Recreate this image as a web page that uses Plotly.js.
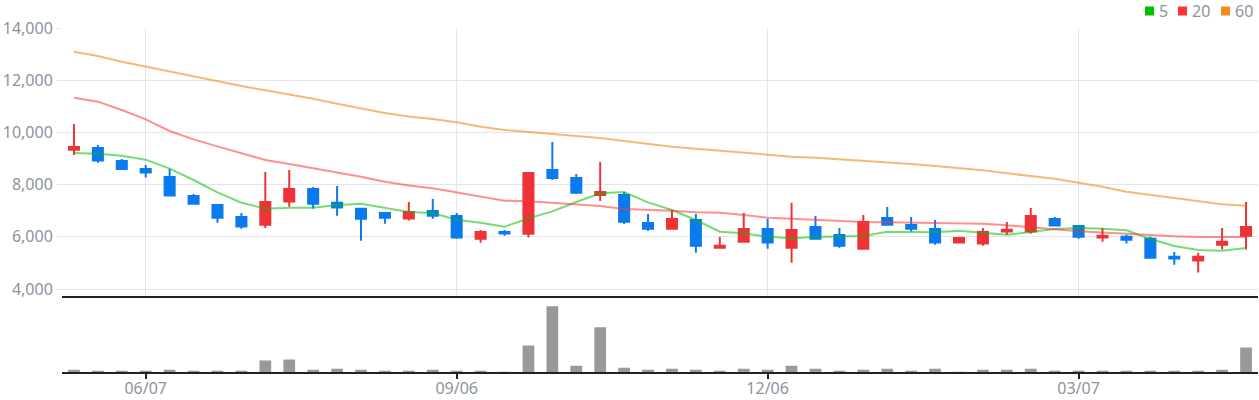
<!DOCTYPE html>
<html>
<head>
<meta charset="utf-8">
<script src="https://cdn.plot.ly/plotly-3.0.1.min.js"></script>
<style>
html,body{margin:0;padding:0;background:#fff;}
#chart{width:1259px;height:400px;}
</style>
</head>
<body>
<div id="chart"></div>
<script>
var weeks = ['2021-05-17','2021-05-24','2021-05-31','2021-06-07','2021-06-14','2021-06-21','2021-06-28','2021-07-05','2021-07-12','2021-07-19',
  '2021-07-26','2021-08-02','2021-08-09','2021-08-16','2021-08-23','2021-08-30','2021-09-06','2021-09-13','2021-09-20','2021-09-27',
  '2021-10-04','2021-10-11','2021-10-18','2021-10-25','2021-11-01','2021-11-08','2021-11-15','2021-11-22','2021-11-29','2021-12-06',
  '2021-12-13','2021-12-20','2021-12-27','2022-01-03','2022-01-10','2022-01-17','2022-01-24','2022-01-31','2022-02-07','2022-02-14',
  '2022-02-21','2022-02-28','2022-03-07','2022-03-14','2022-03-21','2022-03-28','2022-04-04','2022-04-11','2022-04-18','2022-04-25'];

var openP  = [9340,9400,8900,8600,8290,7560,7220,6760,6465,7350,7830,7300,7070,6910,6700,6990,6800,5930,6180,6120,
  8560,8250,7600,7600,6530,6310,6640,5580,5810,6300,5580,6375,6070,5545,6720,6450,6300,5780,5740,6200,
  6200,6680,6410,5970,6000,5930,5240,5090,5700,6040];
var highP  = [10320,9520,8980,8750,8600,7640,7260,6910,8480,8560,7910,7950,7070,6920,7330,7450,6910,6260,6260,8440,
  9630,8410,8870,7720,6870,7030,6870,5990,6910,6680,7300,6800,6340,6840,7140,6760,6640,5990,6340,6570,
  7100,6760,6410,6340,6080,6010,5420,5390,6340,7330];
var lowP   = [9130,8840,8600,8270,7580,7230,6540,6310,6340,7150,7080,6810,5850,6500,6620,6690,5930,5775,6040,5970,
  8180,7640,7370,6490,6235,6310,5390,5580,5810,5545,5010,5930,5580,5545,6465,6200,5700,5740,5660,6080,
  6120,6390,5930,5810,5740,5200,4930,4630,5510,5510];
var closeP = [9440,8920,8600,8460,7580,7270,6730,6390,7330,7830,7270,7120,6690,6730,6950,6810,5970,6180,6130,8440,
  8250,7690,7720,6580,6310,6680,5660,5660,6300,5780,6260,5930,5660,6570,6465,6310,5780,5950,6180,6270,
  6800,6430,6000,6040,5890,5200,5170,5240,5810,6380];

var ma5  = [9210,9185,9108,8955,8610,8176,7703,7307,7078,7116,7116,7218,7270,7103,6950,6912,6656,6541,6388,6707,
  6975,7333,7665,7716,7320,7026,6643,6196,6133,6005,5941,5990,6005,6030,6196,6196,6171,6235,6158,6082,
  6184,6299,6337,6311,6247,5915,5647,5494,5469,5571];
var ma20 = [11330,11177,10857,10500,10053,9733,9465,9210,8942,8789,8636,8482,8304,8112,7965,7857,7703,7537,7384,7358,
  7307,7231,7180,7065,7039,7001,6937,6924,6835,6733,6694,6650,6592,6567,6554,6541,6529,6503,6503,6439,
  6350,6286,6209,6158,6107,6043,6018,5992,5992,5992];
var ma60 = [13092,12926,12709,12517,12351,12160,11968,11777,11611,11458,11292,11100,10934,10743,10608,10513,10385,10219,10091,10015,
  9938,9861,9785,9670,9555,9453,9376,9300,9223,9146,9070,9030,8968,8929,8853,8789,8712,8636,8546,8431,
  8316,8227,8074,7921,7729,7601,7473,7358,7243,7193];

var volume = [31,17,17,17,31,17,17,17,151,164,31,44,31,17,17,31,17,17,2,351,
  871,84,591,57,31,44,31,17,44,31,84,44,17,31,44,17,44,2,31,31,
  44,17,17,17,17,17,17,17,31,324];

var tickDates  = ['2021-06-07','2021-09-06','2021-12-06','2022-03-07'];
var tickLabels = ['06/07','09/06','12/06','03/07'];

var maNames  = ['5','20','60'];
var maKeyColors = ['#00C000','#FF3333','#F28C1E'];
var maLineColors = ['rgba(0,192,0,0.55)','rgba(255,51,51,0.55)','rgba(242,140,30,0.62)'];
var maSeries = [ma5, ma20, ma60];

var RED = '#EE3338', BLUE = '#0B7AEE', GRAY_TXT = '#8B949E';
var DAY = 86400000;

var traces = [];
traces.push({
  type:'bar', x:weeks, y:volume, xaxis:'x', yaxis:'y',
  marker:{color:'#999999', line:{width:0}}, width:0.49*7*DAY,
  hoverinfo:'skip', showlegend:false
});
for (var i=0;i<3;i++){
  traces.push({
    type:'scatter', mode:'lines', x:weeks, y:maSeries[i], xaxis:'x2', yaxis:'y2',
    line:{color:maLineColors[i], width:2}, hoverinfo:'skip', showlegend:false
  });
}
traces.push({
  type:'candlestick', x:weeks, open:openP, high:highP, low:lowP, close:closeP,
  xaxis:'x2', yaxis:'y2',
  increasing:{line:{color:RED, width:2}, fillcolor:RED},
  decreasing:{line:{color:BLUE, width:2}, fillcolor:BLUE},
  whiskerwidth:0, hoverinfo:'skip', showlegend:false
});

var xr = ['2021-05-13 12:00','2022-04-28 12:00'];
var shapes = [], annotations = [];
var sqX = [-113,-80,-37], txX = [-100,-67,-24];
for (var k=0;k<3;k++){
  shapes.push({type:'rect', xref:'paper', yref:'paper', xsizemode:'pixel', ysizemode:'pixel',
    xanchor:1, yanchor:1, x0:sqX[k], x1:sqX[k]+9, y0:12.5, y1:21.5,
    fillcolor:maKeyColors[k], line:{width:0}});
  annotations.push({xref:'paper', yref:'paper', x:1, y:1, xshift:txX[k], yshift:17,
    xanchor:'left', yanchor:'middle', showarrow:false, text:maNames[k],
    font:{family:'Noto Sans', size:16, color:GRAY_TXT}, borderpad:0});
}

var layout = {
  width:1259, height:400,
  margin:{l:62, r:1, t:28, b:28},
  paper_bgcolor:'#ffffff', plot_bgcolor:'#ffffff',
  showlegend:false,
  boxgap:0.4, boxgroupgap:0.3,
  font:{family:'Noto Sans', color:GRAY_TXT},
  xaxis:{type:'date', range:xr, anchor:'y', tickvals:tickDates, ticktext:tickLabels,
    showgrid:false, zeroline:false, showline:true, linecolor:'#222222', linewidth:2,
    ticks:'outside', ticklen:5, tickwidth:2, tickcolor:'#222222', ticklabelstandoff:-4,
    tickfont:{family:'Noto Sans', size:16, color:GRAY_TXT},
    rangeslider:{visible:false}, fixedrange:true},
  xaxis2:{type:'date', range:xr, anchor:'y2', matches:'x', tickvals:tickDates,
    showticklabels:false, ticks:'', showgrid:true, gridcolor:'#E4E6EA', gridwidth:1,
    zeroline:false, showline:true, linecolor:'#222222', linewidth:2,
    rangeslider:{visible:false}, fixedrange:true},
  yaxis:{domain:[0,0.2195], range:[0,1000], showgrid:false, zeroline:false,
    showticklabels:false, ticks:'', showline:false, fixedrange:true},
  yaxis2:{domain:[0.2195,1], range:[3713,14000], tick0:4000, dtick:2000, tickformat:',d',
    showgrid:true, gridcolor:'#E4E6EA', gridwidth:1, zeroline:false, showline:false,
    ticks:'outside', ticklen:5, tickcolor:'#E4E6EA', tickwidth:1,
    tickfont:{family:'Noto Sans', size:16, color:GRAY_TXT}, fixedrange:true},
  shapes:shapes,
  annotations:annotations
};

Plotly.newPlot('chart', traces, layout, {displayModeBar:false, staticPlot:true});
</script>
</body>
</html>
